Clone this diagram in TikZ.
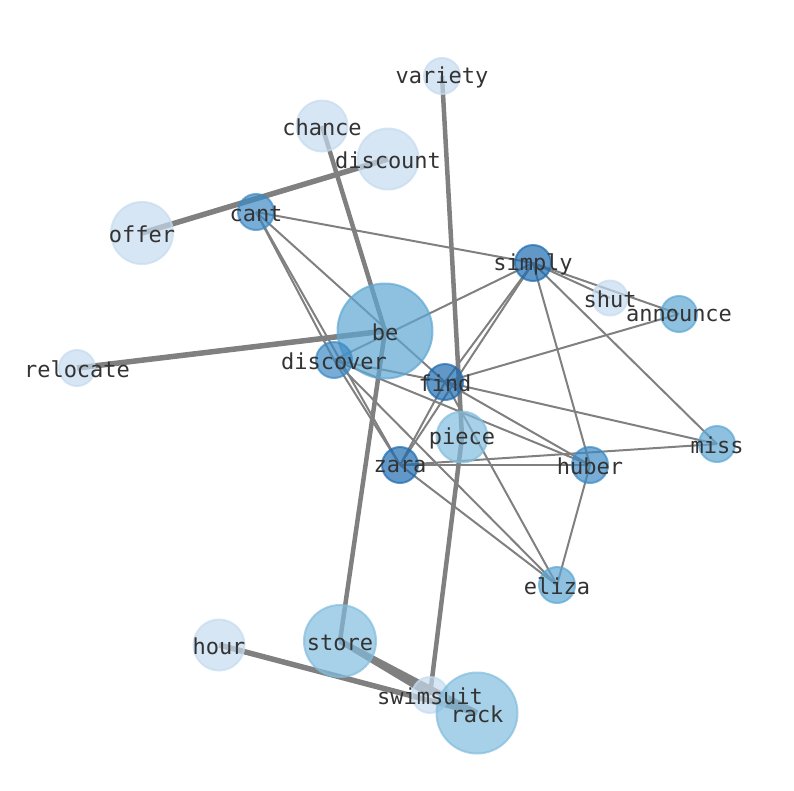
\documentclass[tikz,border=0pt]{standalone}
\usepackage{fontspec}
\newfontfamily\wordfont{DejaVu Sans Mono}
\usetikzlibrary{backgrounds}
\definecolor{blueA}{HTML}{C6DBEF}
\definecolor{blueB}{HTML}{82BDDE}
\definecolor{blueC}{HTML}{5EA7D3}
\definecolor{blueD}{HTML}{3D8AC4}
\definecolor{blueE}{HTML}{1E6CB0}

\begin{document}
\begin{tikzpicture}[x=1pt, y=-1pt,
                    main node/.style={circle,inner sep=0pt,line width=2pt,fill opacity=0.7,draw opacity=0.7},
                    word/.style={font=\wordfont\fontsize{22}{26}\selectfont,text=black!80,inner sep=0pt,yshift=-1.5pt},
                    thin edge/.style={draw=gray,line width=2pt},
                    thick edge/.style={draw=gray,line width=4.5pt},
                    heavy edge/.style={draw=gray,line width=5.5pt}]

  \useasboundingbox (0,0) rectangle (794,790);

  \node[main node, minimum size=36pt, fill=blueA, draw=blueA] (variety) at (442,76) {};
  \node[main node, minimum size=51pt, fill=blueA, draw=blueA] (chance) at (322,126) {};
  \node[main node, minimum size=61pt, fill=blueA, draw=blueA] (discount) at (388,159) {};
  \node[main node, minimum size=62pt, fill=blueA, draw=blueA] (offer) at (142,233) {};
  \node[main node, minimum size=36pt, fill=blueD, draw=blueD] (cant) at (256,212) {};
  \node[main node, minimum size=36pt, fill=blueE, draw=blueE] (simply) at (533,263) {};
  \node[main node, minimum size=35pt, fill=blueA, draw=blueA] (shut) at (610,298) {};
  \node[main node, minimum size=36pt, fill=blueC, draw=blueC] (announce) at (679,314) {};
  \node[main node, minimum size=95pt, fill=blueC, draw=blueC] (be) at (385,331) {};
  \node[main node, minimum size=36pt, fill=blueA, draw=blueA] (relocate) at (77,368) {};
  \node[main node, minimum size=36pt, fill=blueD, draw=blueD] (discover) at (334,360) {};
  \node[main node, minimum size=36pt, fill=blueE, draw=blueE] (find) at (445,382) {};
  \node[main node, minimum size=51pt, fill=blueB, draw=blueB] (piece) at (462,437) {};
  \node[main node, minimum size=36pt, fill=blueC, draw=blueC] (miss) at (717,444) {};
  \node[main node, minimum size=36pt, fill=blueE, draw=blueE] (zara) at (400,465) {};
  \node[main node, minimum size=36pt, fill=blueD, draw=blueD] (huber) at (590,465) {};
  \node[main node, minimum size=36pt, fill=blueC, draw=blueC] (eliza) at (557,585) {};
  \node[main node, minimum size=51pt, fill=blueA, draw=blueA] (hour) at (219,645) {};
  \node[main node, minimum size=72pt, fill=blueB, draw=blueB] (store) at (340,641) {};
  \node[main node, minimum size=36pt, fill=blueA, draw=blueA] (swimsuit) at (430,695) {};
  \node[main node, minimum size=81pt, fill=blueB, draw=blueB] (rack) at (477,713) {};

  \begin{scope}[on background layer]
    \path[heavy edge]
      (offer.center) edge (discount.center)
      (relocate.center) edge (be.center)
      (hour.center) edge (rack.center)
      (store.center) edge (swimsuit.center)
                     edge (rack.center);
    \path[thick edge]
      (chance.center) edge (be.center)
      (be.center) edge (store.center)
      (variety.center) edge (piece.center)
      (piece.center) edge (swimsuit.center);
    \path[thin edge]
      (cant.center) edge (simply.center)
                    edge (find.center)
                    edge (zara.center)
                    edge (discover.center)
      (discover.center) edge (zara.center)
                        edge (simply.center)
                        edge (find.center)
                        edge (huber.center)
                        edge (eliza.center)
      (simply.center) edge (find.center)
                      edge (zara.center)
                      edge (huber.center)
                      edge (miss.center)
                      edge (shut.center)
                      edge (announce.center)
      (find.center) edge (announce.center)
                    edge (miss.center)
                    edge (huber.center)
                    edge (eliza.center)
                    edge (zara.center)
      (zara.center) edge (huber.center)
                    edge (miss.center)
                    edge (eliza.center)
      (huber.center) edge (eliza.center);
  \end{scope}

  \foreach \w in {variety,chance,discount,offer,cant,simply,shut,announce,be,relocate,
                  discover,find,piece,miss,zara,huber,eliza,hour,store,swimsuit,rack}
    \node[word] (\w-text) at (\w) {\w};
\end{tikzpicture}
\end{document}
